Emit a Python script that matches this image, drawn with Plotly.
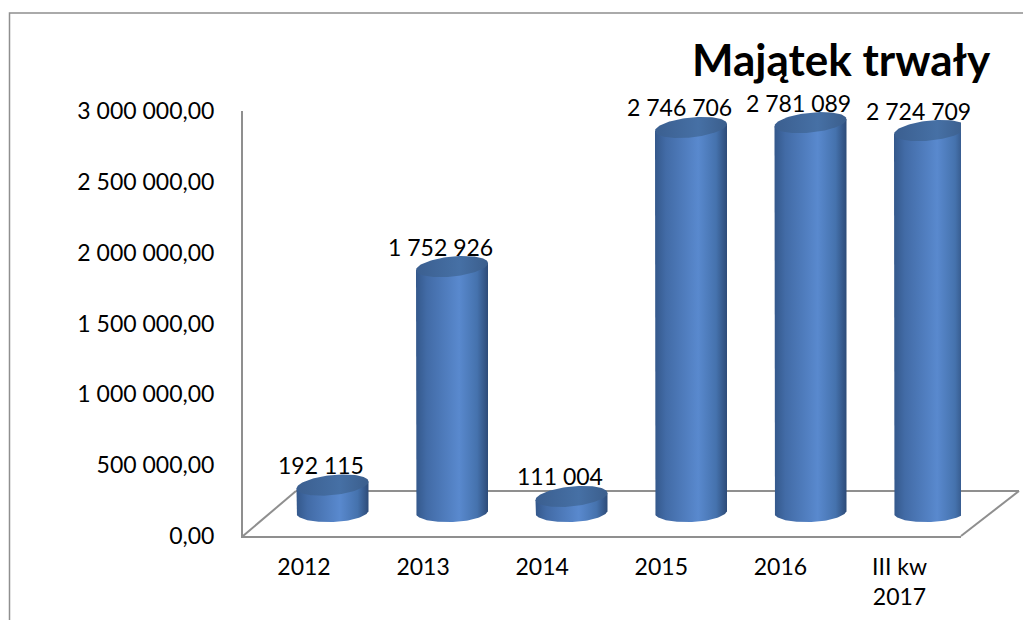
import numpy as np
import plotly.graph_objects as go

# ---- data ----
categories = ["2012", "2013", "2014", "2015", "2016", "III kw<br>2017"]
values = [192115, 1752926, 111004, 2746706, 2781089, 2724709]
title_text = "Majątek trwały"
y_ticks = [0, 500000, 1000000, 1500000, 2000000, 2500000, 3000000]

W, H = 1023, 620
FONT = "Lato"

def px(x):
    return x / W

def py(y):
    return 1 - y / H

# plot frame (front plane)
x_dom = [px(243), px(961)]
y_dom = [py(536), py(111)]

# cylinder axis scales
cat_px = 119.5          # px per category on cylinder plane
val_px = 140 / 1e6      # px per unit value on cylinder plane
zero_px = 512           # pixel row of value 0 on cylinder plane
x2_r0 = -(332.5 - 243) / cat_px
x2_r1 = x2_r0 + (961 - 243) / cat_px
y2_r0 = -(536 - zero_px) / val_px
y2_r1 = (zero_px - 111) / val_px

rx = 36 / cat_px        # cylinder radius (x2 units)
ry = 10 / val_px        # ellipse half-height (y2 units)
k_top = (3.5 / 36) * cat_px / val_px   # slight perspective tilt of the caps
k_bot = k_top * 0.4

fig = go.Figure()

t_bot = np.linspace(np.pi, 2 * np.pi, 60)
t_all = np.linspace(0, 2 * np.pi, 120)

body_scale = [[0, "#34588b"], [0.15, "#426ba6"], [0.6, "#5989ce"],
              [0.85, "#4572ad"], [1, "#2d4b78"]]
cap_scale = [[0, "#3b5f90"], [0.6, "#4670a5"], [1, "#3b5e8c"]]

for i, v in enumerate(values):
    xc = i
    dxb = rx * np.cos(t_bot)
    bx = list(xc + dxb)
    by = list(0 + ry * np.sin(t_bot) + k_bot * dxb)
    xs = [xc - rx] + bx + [xc + rx, xc - rx]
    ys = [v - k_top * rx] + by + [v + k_top * rx, v - k_top * rx]
    fig.add_trace(go.Scatter(
        x=xs, y=ys, xaxis="x2", yaxis="y2", mode="lines", fill="toself",
        line=dict(width=0), fillgradient=dict(type="horizontal", colorscale=body_scale),
        hoverinfo="skip", showlegend=False))
    dxa = rx * np.cos(t_all)
    cx = list(xc + dxa)
    cy = list(v + ry * np.sin(t_all) + k_top * dxa)
    fig.add_trace(go.Scatter(
        x=cx, y=cy, xaxis="x2", yaxis="y2", mode="lines", fill="toself",
        line=dict(width=0), fillgradient=dict(type="horizontal", colorscale=cap_scale),
        hoverinfo="skip", showlegend=False))

# data labels
for i, v in enumerate(values):
    fig.add_annotation(
        x=i - 12 / cat_px, y=v, xref="x2", yref="y2", yshift=20,
        text=f"{v:,}".replace(",", " "), showarrow=False,
        font=dict(family=FONT, size=23, color="black"),
        xanchor="center", yanchor="middle")

# invisible anchor trace for the category axis
fig.add_trace(go.Scatter(x=list(range(len(categories))), y=[None] * len(categories),
                         xaxis="x", yaxis="y", mode="markers", showlegend=False,
                         hoverinfo="skip"))

fig.add_annotation(
    x=px(993), y=py(59), xref="paper", yref="paper", text=f"<b>{title_text}</b>",
    showarrow=False, xanchor="right", yanchor="middle",
    font=dict(family=FONT, size=44, color="black"))

grey = "#8f8f8f"
# floor outline (back/side edges)
floor = [((243, 536), (296, 491)), ((296, 491), (1019, 491)), ((1019, 491), (961, 536))]
for (a, b) in floor:
    fig.add_shape(type="line", xref="paper", yref="paper", x0=px(a[0]), y0=py(a[1]),
                  x1=px(b[0]), y1=py(b[1]), line=dict(color=grey, width=2), layer="below")
# outer chart border
fig.add_shape(type="rect", xref="paper", yref="paper", x0=px(9.5), y0=py(640),
              x1=px(1040), y1=py(13), line=dict(color=grey, width=1.5), layer="below")

fig.update_layout(
    template="none",
    width=W, height=H, autosize=False,
    margin=dict(l=0, r=0, t=0, b=0, pad=0),
    paper_bgcolor="white", plot_bgcolor="rgba(0,0,0,0)",
    separators=", ",
    font=dict(family=FONT, size=23, color="black"),
    xaxis=dict(domain=x_dom, range=[-61 / 119.1, -61 / 119.1 + 718 / 119.1],
               tickvals=list(range(len(categories))), ticktext=categories,
               showline=True, linecolor=grey, linewidth=2, showgrid=False,
               zeroline=False, ticks="", ticklabelstandoff=9, fixedrange=True,
               automargin=False),
    yaxis=dict(domain=y_dom, range=[0, 3000000], tickvals=y_ticks, tickformat=",.2f",
               showline=True, linecolor=grey, linewidth=2, showgrid=False,
               zeroline=False, ticks="", ticklabelstandoff=22, fixedrange=True,
               automargin=False),
    xaxis2=dict(domain=x_dom, range=[x2_r0, x2_r1], overlaying="x", visible=False,
                anchor="y2", automargin=False),
    yaxis2=dict(domain=y_dom, range=[y2_r0, y2_r1], overlaying="y", visible=False,
                anchor="x2", automargin=False),
)

fig.write_html("out.html")
